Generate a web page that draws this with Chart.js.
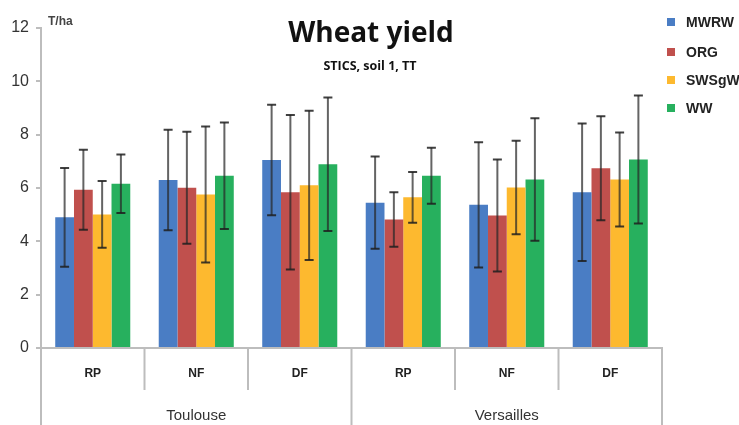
<!DOCTYPE html>
<html>
<head>
<meta charset="utf-8">
<script src="https://cdn.jsdelivr.net/npm/chart.js@4/dist/chart.umd.min.js"></script>
<style>
  html, body { margin: 0; padding: 0; background: #ffffff; }
  #c { display: block; }
</style>
</head>
<body>
<canvas id="c" width="739" height="425"></canvas>
<script>
// ---- data ----
const categories = ["RP", "NF", "DF", "RP", "NF", "DF"];
const groups = ["Toulouse", "Versailles"];
const groupSize = 3;
const yTicks = [0, 2, 4, 6, 8, 10, 12];

const seriesNames = ["MWRW", "ORG", "SWSgW", "WW"];
const MWRW    = [4.90, 6.30, 7.05, 5.45, 5.37, 5.84];
const MWRW_sd = [1.85, 1.88, 2.07, 1.73, 2.35, 2.58];
const ORG     = [5.93, 6.01, 5.84, 4.82, 4.97, 6.74];
const ORG_sd  = [1.50, 2.10, 2.90, 1.02, 2.10, 1.95];
const SWSgW    = [5.01, 5.76, 6.10, 5.65, 6.02, 6.32];
const SWSgW_sd = [1.25, 2.55, 2.80, 0.95, 1.75, 1.76];
const WW    = [6.16, 6.46, 6.89, 6.46, 6.32, 7.07];
const WW_sd = [1.10, 2.00, 2.50, 1.05, 2.30, 2.40];

const titleText = "Wheat yield";
const subtitleText = "STICS, soil 1, TT";
const unitText = "T/ha";

const colors = ["#4a7dc4", "#c0504d", "#fdb92f", "#27b05e"];
const values = [MWRW, ORG, SWSgW, WW];
const sds = [MWRW_sd, ORG_sd, SWSgW_sd, WW_sd];
const axisColor = "#bdbdbd";

const datasets = seriesNames.map((n, i) => ({
  label: n,
  data: values[i],
  sd: sds[i],
  backgroundColor: colors[i],
  borderWidth: 0,
  barPercentage: 1.0,
  categoryPercentage: 0.725
}));

const decorPlugin = {
  id: 'decor',
  afterDatasetsDraw(chart) {
    const ctx = chart.ctx;
    const y = chart.scales.y;
    // error bars
    chart.data.datasets.forEach((ds, di) => {
      const meta = chart.getDatasetMeta(di);
      meta.data.forEach((el, i) => {
        const v = ds.data[i], s = ds.sd[i];
        const yt = y.getPixelForValue(v + s);
        const yb = y.getPixelForValue(v - s);
        ctx.save();
        ctx.strokeStyle = "rgba(40,40,40,0.72)";
        ctx.lineWidth = 2;
        ctx.beginPath();
        ctx.moveTo(el.x, yt); ctx.lineTo(el.x, yb);
        ctx.stroke();
        ctx.strokeStyle = "rgba(30,30,30,0.85)";
        ctx.beginPath();
        ctx.moveTo(el.x - 4.5, yt); ctx.lineTo(el.x + 4.5, yt);
        ctx.moveTo(el.x - 4.5, yb); ctx.lineTo(el.x + 4.5, yb);
        ctx.stroke();
        ctx.restore();
      });
    });
  },
  afterDraw(chart) {
    const ctx = chart.ctx;
    const x = chart.scales.x;
    const area = chart.chartArea;
    const H = chart.height;
    ctx.save();
    // separators
    ctx.strokeStyle = axisColor;
    ctx.lineWidth = 2;
    const n = chart.data.labels.length;
    for (let i = 0; i <= n; i++) {
      let px;
      if (i === 0) px = area.left;
      else if (i === n) px = area.right;
      else px = (x.getPixelForTick(i - 1) + x.getPixelForTick(i)) / 2;
      const long = (i % groupSize === 0);
      ctx.beginPath();
      ctx.moveTo(px, area.bottom);
      ctx.lineTo(px, long ? H : area.bottom + 42);
      ctx.stroke();
    }
    // group labels
    ctx.fillStyle = "#333";
    ctx.font = "15px 'Liberation Sans', Arial, sans-serif";
    ctx.textAlign = "center";
    ctx.textBaseline = "alphabetic";
    groups.forEach((g, gi) => {
      const a = x.getPixelForTick(gi * groupSize);
      const b = x.getPixelForTick(gi * groupSize + groupSize - 1);
      ctx.fillText(g, (a + b) / 2, 420);
    });
    // unit label
    ctx.textAlign = "left";
    ctx.font = "bold 12px 'Liberation Sans', Arial, sans-serif";
    ctx.fillStyle = "#444";
    ctx.fillText(unitText, 48, 25);
    // title
    ctx.textAlign = "center";
    ctx.fillStyle = "#111";
    ctx.font = "bold 28px 'Open Sans', sans-serif";
    ctx.fillText(titleText, 371, 42);
    ctx.font = "bold 12.5px 'Open Sans', sans-serif";
    ctx.fillText(subtitleText, 370, 70);
    // legend
    ctx.textAlign = "left";
    ctx.textBaseline = "middle";
    ctx.font = "bold 14px 'Liberation Sans', Arial, sans-serif";
    const rows = [22, 52, 80, 108];
    chart.data.datasets.forEach((ds, i) => {
      ctx.fillStyle = ds.backgroundColor;
      ctx.fillRect(667, rows[i] - 4, 8, 8);
      ctx.fillStyle = "#222";
      ctx.fillText(ds.label, 686, rows[i] + 1);
    });
    ctx.restore();
  }
};

new Chart(document.getElementById('c'), {
  type: 'bar',
  data: { labels: categories, datasets: datasets },
  options: {
    responsive: false,
    animation: false,
    devicePixelRatio: 1,
    layout: { padding: { top: 28, right: 77, left: 0, bottom: 0 } },
    plugins: { legend: { display: false }, tooltip: { enabled: false }, title: { display: false } },
    scales: {
      x: {
        afterFit(s) { s.height = 77; },
        grid: { display: false },
        border: { display: true, color: axisColor, width: 2 },
        ticks: {
          padding: 10,
          color: "#222",
          font: { family: "'Liberation Sans', Arial, sans-serif", size: 12, weight: 'bold' }
        }
      },
      y: {
        min: 0, max: 12,
        afterFit(s) { s.width = 41; },
        afterBuildTicks(s) { s.ticks = yTicks.map(v => ({ value: v })); },
        grid: { drawOnChartArea: false, color: axisColor, lineWidth: 2, tickLength: 5 },
        border: { display: true, color: axisColor, width: 2 },
        ticks: {
          padding: 7,
          color: "#333",
          font: { family: "'Liberation Sans', Arial, sans-serif", size: 16 }
        }
      }
    }
  },
  plugins: [decorPlugin]
});
</script>
</body>
</html>
